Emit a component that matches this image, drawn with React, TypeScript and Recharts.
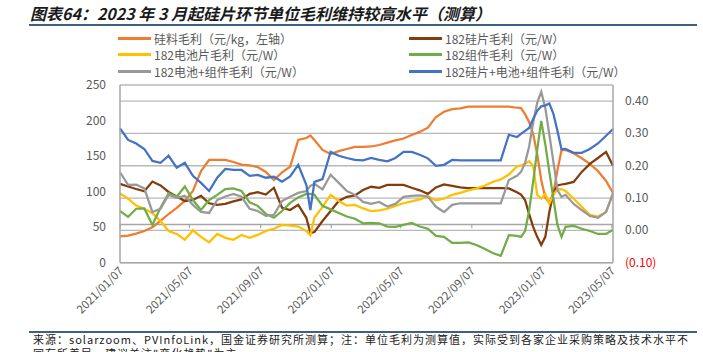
import { CartesianGrid, Line, LineChart, ReferenceLine, XAxis, YAxis } from "recharts";

// weekly / bi-weekly sampling dates
const dates = [
  "2021/01/07", "2021/01/21", "2021/02/04", "2021/02/18", "2021/03/04", "2021/03/18", "2021/04/01",
  "2021/04/15", "2021/04/29", "2021/05/13", "2021/05/27", "2021/06/10", "2021/06/24", "2021/07/08",
  "2021/07/22", "2021/08/05", "2021/08/19", "2021/09/02", "2021/09/16", "2021/09/30", "2021/10/14",
  "2021/10/28", "2021/11/11", "2021/11/25", "2021/12/02", "2021/12/09", "2021/12/23",
  "2022/01/06", "2022/01/20", "2022/02/03", "2022/02/17", "2022/03/03", "2022/03/17", "2022/03/31",
  "2022/04/14", "2022/04/28", "2022/05/12", "2022/05/26", "2022/06/09", "2022/06/23", "2022/07/07",
  "2022/07/21", "2022/08/04", "2022/08/18", "2022/09/01", "2022/09/15", "2022/09/29", "2022/10/13",
  "2022/10/27", "2022/11/10", "2022/11/24", "2022/12/01", "2022/12/08", "2022/12/15", "2022/12/22",
  "2022/12/29",
  "2023/01/05", "2023/01/12", "2023/01/19", "2023/01/26", "2023/02/02", "2023/02/09", "2023/02/16",
  "2023/03/02", "2023/03/16", "2023/03/30", "2023/04/13", "2023/04/27", "2023/05/09",
];

// 硅料毛利 元/kg (left axis)
const siliconMaterial = [
  37, 38, 41, 44.6, 50, 58.7, 68.5, 77, 87, 101, 129, 144.5, 144.5, 144.5, 141.7, 138, 137, 134.6,
  127.6, 116.3, 127, 135, 172.6, 175.4, 179, 172.6, 158.6,
  153, 157, 160, 163, 163, 163.5, 165.6, 169, 172, 174.7, 179.7, 184, 190, 205, 212.4, 216, 217,
  219.5, 219.5, 219.5, 219.5, 219.5, 219.5, 218, 217.6, 209, 198, 181, 153,
  116, 91.7, 84, 97.8, 130, 158, 158.6, 154, 147, 139, 129, 115, 98,
];

// 元/W (right axis)
const wafer = [
  0.144, 0.136, 0.128, 0.121, 0.151, 0.139, 0.119, 0.105, 0.091, 0.094, 0.107, 0.084, 0.079, 0.082,
  0.09, 0.096, 0.113, 0.118, 0.111, 0.132, 0.07, 0.063, 0.079, 0.039, -0.008, -0.005, 0.029,
  0.06, 0.091, 0.104, 0.108, 0.125, 0.135, 0.132, 0.141, 0.141, 0.141, 0.132, 0.124, 0.113, 0.133,
  0.142, 0.138, 0.133, 0.131, 0.131, 0.131, 0.131, 0.131, 0.13, 0.118, 0.111, 0.094, 0.051, 0.011,
  -0.02,
  -0.045, -0.02, 0.057, 0.116, 0.139, 0.142, 0.144, 0.15, 0.181, 0.206, 0.224, 0.243, 0.2,
];

const cell = [
  0.114, 0.098, 0.077, 0.067, 0.053, 0.029, -0.002, -0.011, -0.029, 0.0, -0.02, -0.037, -0.011,
  -0.023, -0.029, -0.014, -0.023, -0.014, -0.002, 0.005, 0.017, 0.015, 0.012, -0.002, -0.015, 0.039,
  0.073,
  0.11, 0.091, 0.077, 0.079, 0.068, 0.06, 0.062, 0.067, 0.076, 0.084, 0.09, 0.096, 0.105, 0.093,
  0.098, 0.11, 0.116, 0.124, 0.13, 0.138, 0.15, 0.158, 0.173, 0.198, 0.201, 0.206, 0.214, 0.2, 0.11,
  0.098, 0.113, 0.082, 0.11, 0.127, 0.128, 0.122, 0.098, 0.073, 0.048, 0.043, 0.057, 0.113,
];

const moduleMargin = [
  0.06, 0.042, 0.067, 0.068, 0.017, 0.07, 0.115, 0.104, 0.136, 0.094, 0.063, 0.094, 0.11, 0.128,
  0.13, 0.122, 0.087, 0.076, 0.051, 0.039, 0.06, 0.085, 0.102, 0.113, 0.113, 0.11, 0.076,
  0.065, 0.054, 0.043, 0.036, 0.022, 0.023, 0.022, 0.012, 0.011, 0.017, 0.023, 0.012, 0.005, -0.017,
  -0.02, -0.039, -0.039, -0.037, -0.045, -0.057, -0.07, -0.079, -0.015, -0.017, -0.02, -0.002, 0.06,
  0.15, 0.249,
  0.339, 0.266, 0.181, 0.098, 0.017, -0.02, 0.011, 0.014, 0.005, -0.002, -0.011, -0.011, 0.002,
];

const cellModule = [
  0.18, 0.141, 0.142, 0.13, 0.057, 0.067, 0.11, 0.101, 0.107, 0.079, 0.057, 0.054, 0.094, 0.105,
  0.113, 0.104, 0.067, 0.06, 0.045, 0.048, 0.091, 0.104, 0.116, 0.122, 0.138, 0.144, 0.127,
  0.172, 0.147, 0.122, 0.11, 0.088, 0.082, 0.088, 0.074, 0.082, 0.104, 0.107, 0.108, 0.105, 0.073,
  0.057, 0.079, 0.084, 0.084, 0.084, 0.084, 0.084, 0.084, 0.156, 0.169, 0.181, 0.209, 0.259, 0.333,
  0.395,
  0.429, 0.379, 0.296, 0.212, 0.125, 0.104, 0.11, 0.082, 0.063, 0.045, 0.039, 0.057, 0.115,
];

const waferCellModule = [
  0.316, 0.28, 0.269, 0.252, 0.215, 0.209, 0.231, 0.194, 0.209, 0.169, 0.147, 0.122, 0.163, 0.19,
  0.187, 0.187, 0.169, 0.172, 0.163, 0.166, 0.151, 0.167, 0.203, 0.141, 0.063, 0.15, 0.159,
  0.243, 0.231, 0.224, 0.218, 0.217, 0.224, 0.218, 0.214, 0.224, 0.243, 0.243, 0.234, 0.223, 0.2,
  0.203, 0.218, 0.217, 0.217, 0.217, 0.217, 0.217, 0.217, 0.296, 0.289, 0.299, 0.308, 0.317, 0.345,
  0.37,
  0.384, 0.387, 0.393, 0.361, 0.308, 0.251, 0.252, 0.24, 0.24, 0.252, 0.269, 0.293, 0.314,
];

const tickDates = [
  "2021/01/07", "2021/05/07", "2021/09/07", "2022/01/07",
  "2022/05/07", "2022/09/07", "2023/01/07", "2023/05/07",
];
const leftTicks = [0, 50, 100, 150, 200, 250];
const rightTicks = [-0.1, 0, 0.1, 0.2, 0.3, 0.4];

const series = [
  { key: "siliconMaterial", name: "硅料毛利（元/kg，左轴）", color: "#ED7D31", axis: "left", values: siliconMaterial },
  { key: "wafer", name: "182硅片毛利（元/W）", color: "#843C0C", axis: "right", values: wafer },
  { key: "cell", name: "182电池片毛利（元/W）", color: "#FFC000", axis: "right", values: cell },
  { key: "module", name: "182组件毛利（元/W）", color: "#70AD47", axis: "right", values: moduleMargin },
  { key: "cellModule", name: "182电池+组件毛利（元/W）", color: "#999999", axis: "right", values: cellModule },
  { key: "waferCellModule", name: "182硅片+电池+组件毛利（元/W）", color: "#4472C4", axis: "right", values: waferCellModule },
];

const toDay = (s: string) => {
  const [y, m, d] = s.split("/").map(Number);
  return (Date.UTC(y, m - 1, d) - Date.UTC(2021, 0, 7)) / 86400000;
};

const data = dates.map((d, i) => {
  const row: Record<string, number> = { t: toDay(d) };
  series.forEach((s) => (row[s.key] = s.values[i]));
  return row;
});

const tickDays = tickDates.map(toDay);
const lastDay = toDay(dates[dates.length - 1]);
const axisRefY = 0.0186;

const FONT = "'Noto Sans CJK SC', 'Noto Sans', sans-serif";
const TICK_COLOR = "#595959";

function DateTick({ x, y, payload }: any) {
  const label = tickDates[tickDays.indexOf(payload.value)] ?? "";
  const ax = x + 4;
  const ay = y + 9;
  return (
    <text x={ax} y={ay} transform={`rotate(-45 ${ax} ${ay})`} textAnchor="end" fontSize={11.5} fill={TICK_COLOR} fontFamily={FONT}>
      {label}
    </text>
  );
}

function RightTick({ x, y, payload }: any) {
  const v = payload.value as number;
  const neg = v < 0;
  return (
    <text x={x} y={y} dy={4} textAnchor="start" fontSize={12} fill={neg ? "#FF0000" : TICK_COLOR} fontFamily={FONT}>
      {neg ? `(${Math.abs(v).toFixed(2)})` : v.toFixed(2)}
    </text>
  );
}

const legendRows = [
  [series[0], series[1]],
  [series[2], series[3]],
  [series[4], series[5]],
];

export default function App() {
  return (
    <div style={{ position: "fixed", left: 0, top: 0, width: 703, height: 352, background: "#fff", overflow: "hidden", fontFamily: FONT }}>
      <div style={{ position: "absolute", left: 30, top: 3, fontSize: 16, fontWeight: 700, fontStyle: "italic", color: "#1a1a1a", whiteSpace: "nowrap", lineHeight: "20px" }}>
        图表64：2023 年 3 月起硅片环节单位毛利维持较高水平（测算）
      </div>
      <div style={{ position: "absolute", left: 29, top: 24, width: 668, height: 1.5, background: "#40607f" }} />

      {legendRows.map((row, r) =>
        row.map((s, c) => (
          <div key={s.key} style={{ position: "absolute", left: c === 0 ? 118 : 409, top: 30 + r * 16.5, height: 16, display: "flex", alignItems: "center", whiteSpace: "nowrap" }}>
            <span style={{ display: "inline-block", width: 33, height: 3, background: s.color, marginRight: 3 }} />
            <span style={{ fontSize: 12, color: TICK_COLOR }}>{s.name}</span>
          </div>
        ))
      )}

      <div style={{ position: "absolute", left: 0, top: 0 }}>
        <LineChart width={703} height={352} data={data} margin={{ top: 85, right: 0, bottom: 29.3, left: 0 }}>
          <CartesianGrid vertical={false} yAxisId="right" stroke="#b8b8b8" strokeWidth={1.3} />
          <XAxis
            dataKey="t"
            type="number"
            domain={[0, lastDay]}
            ticks={tickDays}
            height={60}
            tickLine={false}
            tickSize={0}
            tickMargin={0}
            interval={0}
            tick={<DateTick />}
            axisLine={{ stroke: "#a6a6a6", strokeWidth: 1.5 }}
          />
          <YAxis
            yAxisId="left"
            orientation="left"
            width={120}
            domain={[0, 250]}
            ticks={leftTicks}
            tickLine={false}
            tickSize={0}
            tickMargin={14}
            tick={{ fill: TICK_COLOR, fontSize: 12, fontFamily: FONT }}
            axisLine={{ stroke: "#a6a6a6", strokeWidth: 1.5 }}
          />
          <YAxis
            yAxisId="right"
            orientation="right"
            width={90}
            domain={[-0.1, 0.45]}
            ticks={rightTicks}
            tickLine={false}
            tickSize={0}
            tickMargin={12}
            tick={<RightTick />}
            axisLine={{ stroke: "#a6a6a6", strokeWidth: 1.5 }}
          />
          <ReferenceLine yAxisId="right" y={axisRefY} stroke="#a6a6a6" strokeWidth={1.5} />
          {tickDays.map((d) => (
            <ReferenceLine
              key={d}
              yAxisId="right"
              segment={[{ x: d, y: axisRefY }, { x: d, y: axisRefY - 0.012 }]}
              stroke="#a6a6a6"
              strokeWidth={1.2}
            />
          ))}
          {series.map((s) => (
            <Line
              key={s.key}
              yAxisId={s.axis}
              dataKey={s.key}
              type="linear"
              stroke={s.color}
              strokeWidth={2.25}
              dot={false}
              isAnimationActive={false}
            />
          ))}
        </LineChart>
      </div>

      <div style={{ position: "absolute", left: 29, top: 331, width: 668, height: 1.5, background: "#40607f" }} />
      <div style={{ position: "absolute", left: 33, top: 333, fontSize: 11, color: "#222", whiteSpace: "nowrap", letterSpacing: 1, lineHeight: "13px" }}>
        来源：solarzoom、PVInfoLink，国金证券研究所测算；注：单位毛利为测算值，实际受到各家企业采购策略及技术水平不
      </div>
      <div style={{ position: "absolute", left: 33, top: 347, fontSize: 11, color: "#222", whiteSpace: "nowrap", letterSpacing: 1, lineHeight: "13px" }}>
        同有所差异，建议关注"变化趋势"为主。
      </div>
    </div>
  );
}
